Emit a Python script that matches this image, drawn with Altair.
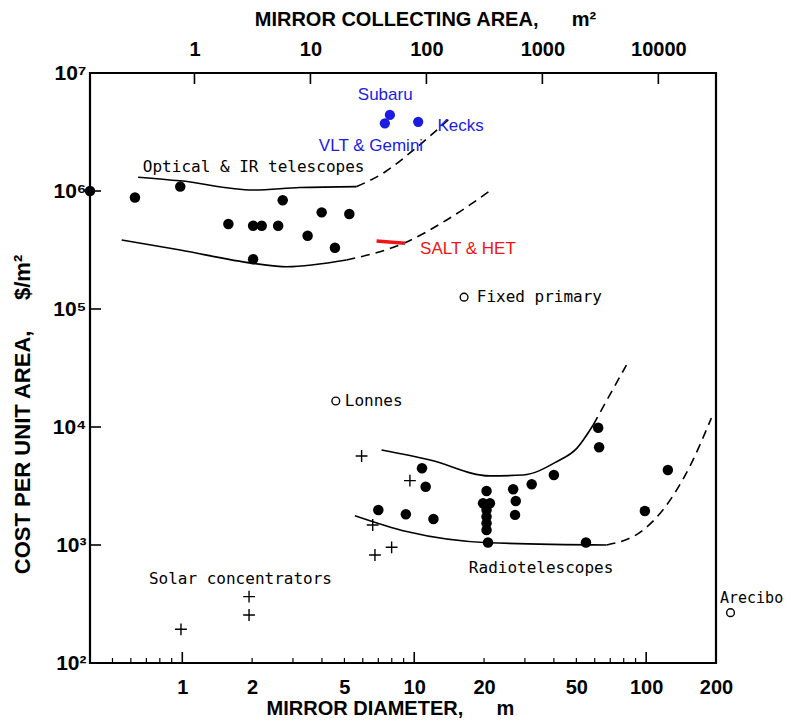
import math
import altair as alt
import pandas as pd

# ---------------- data ----------------
x_domain = [0.4, 200]          # mirror diameter, m
y_domain = [1e2, 1e7]          # cost per unit area, $/m^2

bottom_labels = [1, 2, 5, 10, 20, 50, 100, 200]
top_labels = [1, 10, 100, 1000, 10000]          # collecting area, m^2
left_labels = [1e2, 1e3, 1e4, 1e5, 1e6, 1e7]

major_x_ticks = [1, 10, 100]
minor_x_ticks = [0.5, 0.6, 0.7, 0.8, 0.9, 2, 3, 4, 5, 6, 7, 8, 9,
                 20, 30, 40, 50, 60, 70, 80, 90]
major_y_ticks = [1e3, 1e4, 1e5, 1e6]

optical_d = [0.40, 0.625, 0.98, 1.58, 2.02, 2.20, 2.59, 2.71, 3.47, 3.99, 4.55, 5.25, 2.02]
optical_cost = [1.0e6, 8.8e5, 1.09e6, 5.25e5, 5.08e5, 5.08e5, 5.08e5, 8.34e5,
                4.18e5, 6.59e5, 3.30e5, 6.38e5, 2.64e5]

large_d = [7.85, 7.47, 10.4]
large_cost = [4.41e6, 3.75e6, 3.86e6]

salt_d = [6.88, 9.12]
salt_cost = [3.77e5, 3.61e5]

radio_d = [7.0, 9.2, 12.1, 10.8, 11.2, 20.5, 19.8, 21.2, 20.5, 20.5, 20.5, 20.5, 20.8,
           26.7, 27.4, 27.2, 32.1, 40.0, 62.1, 62.7, 55.0, 98.7, 124]
radio_cost = [1980, 1820, 1660, 4470, 3120, 2870, 2260, 2260, 1980, 1740, 1530, 1340, 1050,
              2970, 2360, 1800, 3270, 3920, 9860, 6730, 1050, 1940, 4320]

solar_d = [0.987, 1.94, 1.94, 5.93, 9.58, 6.62, 6.77, 7.99]
solar_cost = [193, 365, 255, 5680, 3510, 1477, 823, 956]

open_d = [16.4, 4.59, 231]
open_cost = [1.26e5, 1.66e4, 267]

# envelope curves: solid part and dashed extrapolation
opt_up_solid_d = [0.645, 0.98, 2.02, 3.21, 5.65]
opt_up_solid_c = [1.31e6, 1.22e6, 1.02e6, 1.07e6, 1.09e6]
opt_up_dash_d = [5.65, 7.48, 9.58, 14.2]
opt_up_dash_c = [1.09e6, 1.45e6, 2.1e6, 4.1e6]

opt_lo_solid_d = [0.548, 0.98, 2.02, 2.82, 5.10]
opt_lo_solid_c = [3.85e5, 3.16e5, 2.44e5, 2.28e5, 2.60e5]
opt_lo_dash_d = [5.10, 9.12, 13.8, 21.9]
opt_lo_dash_c = [2.60e5, 3.65e5, 5.68e5, 1.05e6]

rad_up_solid_d = [7.23, 11.7, 21.2, 29.5, 41.1, 50.2, 59.1]
rad_up_solid_c = [6380, 5250, 3850, 3920, 5080, 6590, 10400]
rad_up_dash_d = [59.1, 69.7, 82.2]
rad_up_dash_c = [10400, 18700, 33500]

rad_lo_solid_d = [5.55, 9.27, 20.8, 67.5]
rad_lo_solid_c = [1770, 1300, 1046, 1000]
rad_lo_dash_d = [67.5, 97.0, 118, 154, 191]
rad_lo_dash_c = [1000, 1340, 1980, 4610, 11900]

black_texts = ["Optical & IR telescopes", "Solar concentrators", "Radiotelescopes",
               "Fixed primary", "Lonnes"]
black_text_d = [0.676, 0.718, 17.2, 18.6, 5.02]
black_text_c = [1.6e6, 515, 638, 1.26e5, 1.66e4]

edge_texts = ["Arecibo"]
edge_text_d = [208]
edge_text_c = [356]

blue_texts = ["Subaru", "VLT & Gemini", "Kecks"]
blue_text_d = [5.71, 3.88, 12.6]
blue_text_c = [6.5e6, 2.4e6, 3.56e6]

red_texts = ["SALT & HET"]
red_text_d = [10.6]
red_text_c = [3.22e5]

# ---------------- styling ----------------
W, H = 626, 590
AXFONT = "Liberation Sans"
MONO = "DejaVu Sans Mono"
BLUE = "#1c1ce0"
RED = "#ee1515"

xscale = alt.Scale(type="log", domain=x_domain, nice=False)
yscale = alt.Scale(type="log", domain=y_domain, nice=False)

sup = {2: "\u00b2", 3: "\u00b3", 4: "\u2074", 5: "\u2075", 6: "\u2076", 7: "\u2077"}
ylab_expr = ""
for e in [7, 6, 5, 4, 3]:
    ylab_expr += f"datum.value > {0.5 * 10 ** e} ? '10{sup[e]}' : "
ylab_expr += f"'10{sup[2]}'"

NB = "\u00a0"

x_axis = alt.Axis(orient="bottom", values=bottom_labels, format="d", ticks=False, domain=False,
                  grid=False, labelFont=AXFONT, labelFontSize=20, labelFontWeight="bold",
                  labelColor="black", labelPadding=14, labelOverlap=False, labelFlush=False,
                  title="MIRROR DIAMETER," + NB * 6 + "m", titleFont=AXFONT, titleFontSize=20,
                  titleFontWeight="bold", titleColor="black", titleX=300, titleY=51,
                  titleAlign="center", titleBaseline="alphabetic", titleAnchor="start")
y_axis = alt.Axis(orient="left", values=left_labels, labelExpr=ylab_expr, ticks=False,
                  domain=False, grid=False, labelFont=AXFONT, labelFontSize=21,
                  labelFontWeight="bold", labelColor="black", labelPadding=4,
                  labelOverlap=False, labelFlush=False, labelBaseline="middle",
                  title="COST PER UNIT AREA," + NB * 5 + "$/m\u00b2", titleFont=AXFONT,
                  titleFontSize=22, titleFontWeight="bold", titleColor="black",
                  titleX=-68, titleY=341, titleAngle=-90, titleAlign="center",
                  titleBaseline="middle", titleAnchor="start")


def X(field="d"):
    return alt.X(f"{field}:Q", scale=xscale, axis=x_axis)


def Y(field="c"):
    return alt.Y(f"{field}:Q", scale=yscale, axis=y_axis)


def df(d, c, **extra):
    out = pd.DataFrame({"d": d, "c": c})
    for k, v in extra.items():
        out[k] = v
    return out


# ---------------- layers ----------------
curves_solid = pd.concat([
    df(opt_up_solid_d, opt_up_solid_c, k="ou"),
    df(opt_lo_solid_d, opt_lo_solid_c, k="ol"),
    df(rad_up_solid_d, rad_up_solid_c, k="ru"),
    df(rad_lo_solid_d, rad_lo_solid_c, k="rl"),
])
curves_dash = pd.concat([
    df(opt_up_dash_d, opt_up_dash_c, k="ou"),
    df(opt_lo_dash_d, opt_lo_dash_c, k="ol"),
    df(rad_up_dash_d, rad_up_dash_c, k="ru"),
    df(rad_lo_dash_d, rad_lo_dash_c, k="rl"),
])

solid = alt.Chart(curves_solid).mark_line(color="black", strokeWidth=1.6,
                                          interpolate="monotone").encode(
    x=X(), y=Y(), detail="k:N", order="d:Q")
dashed = alt.Chart(curves_dash).mark_line(color="black", strokeWidth=1.6, strokeDash=[9, 6],
                                          interpolate="monotone").encode(
    x=X(), y=Y(), detail="k:N", order="d:Q")

salt = alt.Chart(df(salt_d, salt_cost)).mark_line(color=RED, strokeWidth=3.5).encode(
    x=X(), y=Y())

dots = alt.Chart(pd.concat([df(optical_d, optical_cost), df(radio_d, radio_cost)])).mark_point(
    filled=True, color="black", size=110, opacity=1).encode(x=X(), y=Y())
blue_dots = alt.Chart(df(large_d, large_cost)).mark_point(
    filled=True, color=BLUE, size=105, opacity=1).encode(x=X(), y=Y())
open_pts = alt.Chart(df(open_d, open_cost)).mark_point(
    filled=False, color="black", size=60, strokeWidth=1.4, opacity=1).encode(x=X(), y=Y())
crosses = alt.Chart(df(solar_d, solar_cost)).mark_point(
    shape="M-1,0L1,0M0,-1L0,1", filled=False, color="black", size=140, strokeWidth=1.4,
    opacity=1).encode(x=X(), y=Y())

txt_black = alt.Chart(pd.DataFrame({"d": black_text_d, "c": black_text_c, "t": black_texts})
                      ).mark_text(font=MONO, fontSize=16, align="left", baseline="middle",
                                  color="black").encode(x=X(), y=Y(), text="t:N")
txt_edge = alt.Chart(pd.DataFrame({"d": edge_text_d, "c": edge_text_c, "t": edge_texts})
                     ).mark_text(font=MONO, fontSize=15, align="left", baseline="middle",
                                 color="black").encode(x=X(), y=Y(), text="t:N")
txt_blue = alt.Chart(pd.DataFrame({"d": blue_text_d, "c": blue_text_c, "t": blue_texts})
                     ).mark_text(font=AXFONT, fontSize=17, align="left", baseline="middle",
                                 color=BLUE).encode(x=X(), y=Y(), text="t:N")
txt_red = alt.Chart(pd.DataFrame({"d": red_text_d, "c": red_text_c, "t": red_texts})
                    ).mark_text(font=AXFONT, fontSize=17, align="left", baseline="middle",
                                color=RED).encode(x=X(), y=Y(), text="t:N")

bx_major = alt.Chart(pd.DataFrame({"d": major_x_ticks})).mark_rule(
    color="black", strokeWidth=1.6).encode(x=X(), y=alt.value(H), y2=alt.value(H - 11))
bx_minor = alt.Chart(pd.DataFrame({"d": minor_x_ticks})).mark_rule(
    color="black", strokeWidth=1.2).encode(x=X(), y=alt.value(H), y2=alt.value(H - 5))
ly_major = alt.Chart(pd.DataFrame({"c": major_y_ticks})).mark_rule(
    color="black", strokeWidth=1.6).encode(y=Y(), x=alt.value(0), x2=alt.value(11))

main = alt.layer(bx_major, bx_minor, ly_major, solid, dashed, salt, dots, blue_dots,
                 open_pts, crosses, txt_black, txt_edge, txt_blue, txt_red)

area_domain = [math.pi / 4 * x_domain[0] ** 2, math.pi / 4 * x_domain[1] ** 2]
top_axis = alt.Axis(orient="top", values=top_labels, format="d", ticks=False, domain=False,
                    grid=False, labelFont=AXFONT, labelFontSize=20, labelFontWeight="bold",
                    labelColor="black", labelPadding=14, labelOverlap=False, labelFlush=False,
                    title="MIRROR COLLECTING AREA," + NB * 6 + "m\u00b2", titleFont=AXFONT,
                    titleFontSize=20, titleFontWeight="bold", titleColor="black",
                    titleX=335, titleY=-54, titleAlign="center", titleBaseline="middle",
                    titleAnchor="start")
top = alt.Chart(pd.DataFrame({"A": top_labels})).mark_rule(
    color="black", strokeWidth=1.6).encode(
    x=alt.X("A:Q", scale=alt.Scale(type="log", domain=area_domain, nice=False), axis=top_axis),
    y=alt.value(0), y2=alt.value(11))

chart = alt.layer(main, top).resolve_scale(x="independent").properties(
    width=W, height=H,
    autosize=alt.AutoSizeParams(type="none"),
    padding={"left": 82, "top": 65, "right": 69, "bottom": 55},
).configure_view(stroke="black", strokeWidth=2.2)

chart.save("out.html", embed_options={"renderer": "svg", "actions": False})
